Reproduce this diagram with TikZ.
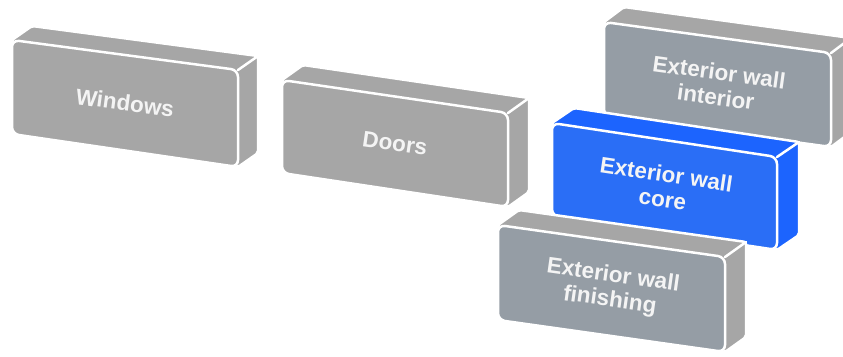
\documentclass[tikz,border=0pt]{standalone}
\usepackage{fontspec}
\setmainfont{Liberation Sans}
\usetikzlibrary{calc}
\definecolor{grayface}{RGB}{166,166,166}
\definecolor{grayside}{RGB}{166,166,166}
\definecolor{slateface}{RGB}{149,157,165}
\definecolor{blueface}{RGB}{42,110,246}
\definecolor{blueside}{RGB}{28,100,254}
\definecolor{labeltext}{RGB}{244,244,244}
\tikzset{
  silhouette/.style={draw=white, line width=2.5pt, rounded corners=2pt, line join=round},
  gapline/.style={draw=white, line width=2.5pt, line cap=round},
  frontface/.style={draw=white, line width=2.5pt, rounded corners=7pt},
  blocklabel/.style={text=labeltext, align=center, font=\fontsize{22.5}{25}\selectfont\bfseries, inner sep=0pt}
}
% #1 name, #2 x, #3 y, #4 w, #5 s, #6 hL, #7 hR, #8 dx, #9 dy
\newcommand{\blockgeom}[9]{%
  \coordinate (#1A) at (#2,#3);
  \coordinate (#1B) at (#2+#4,#3+#5);
  \coordinate (#1C) at (#2+#4,#3+#5+#7);
  \coordinate (#1D) at (#2,#3+#6);
  \coordinate (#1Ab) at (#2+#8,#3+#9);
  \coordinate (#1Bb) at (#2+#4+#8,#3+#5+#9);
  \coordinate (#1Cb) at (#2+#4+#8,#3+#5+#7+#9);
  \coordinate (#1M) at (#2+#4/2,#3+#5/2+#6/4+#7/4);
}
% #1 name, #2 front colour, #3 side colour, #4 angle, #5 text
\newcommand{\blockdraw}[5]{%
  \path[silhouette, fill=#3] (#1D) -- (#1A) -- (#1Ab) -- (#1Bb) -- (#1Cb) -- (#1C) -- cycle;
  \path[gapline] (#1B) -- (#1Bb);
  \path[frontface, fill=#2] (#1A) -- (#1B) -- (#1C) -- (#1D) -- cycle;
  \node[blocklabel, rotate=#4] (#1T) at (#1M) {#5};
}
\begin{document}
\begin{tikzpicture}[x=1pt,y=-1pt]
\useasboundingbox (0,0) rectangle (843,356);
\clip (0,0) rectangle (843,356);
\blockgeom{win}{12}{40}{226}{30}{94}{97}{20}{-14}
\blockdraw{win}{grayface}{grayside}{-7.6}{Windows}
\blockgeom{door}{282}{80}{226}{33}{93}{94}{21}{-15}
\blockdraw{door}{grayface}{grayside}{-8.3}{Doors}
\blockgeom{int}{604}{22}{227}{31}{94}{94}{20}{-15}
\blockdraw{int}{slateface}{grayside}{-7.8}{Exterior wall\\interior}
\blockgeom{core}{552}{123}{225}{34}{93}{93}{22}{-15}
\blockdraw{core}{blueface}{blueside}{-8.6}{Exterior wall\\core}
\blockgeom{fin}{498}{225}{227}{32}{95}{95}{21}{-15}
\blockdraw{fin}{slateface}{grayside}{-8.0}{Exterior wall\\finishing}
\end{tikzpicture}
\end{document}
